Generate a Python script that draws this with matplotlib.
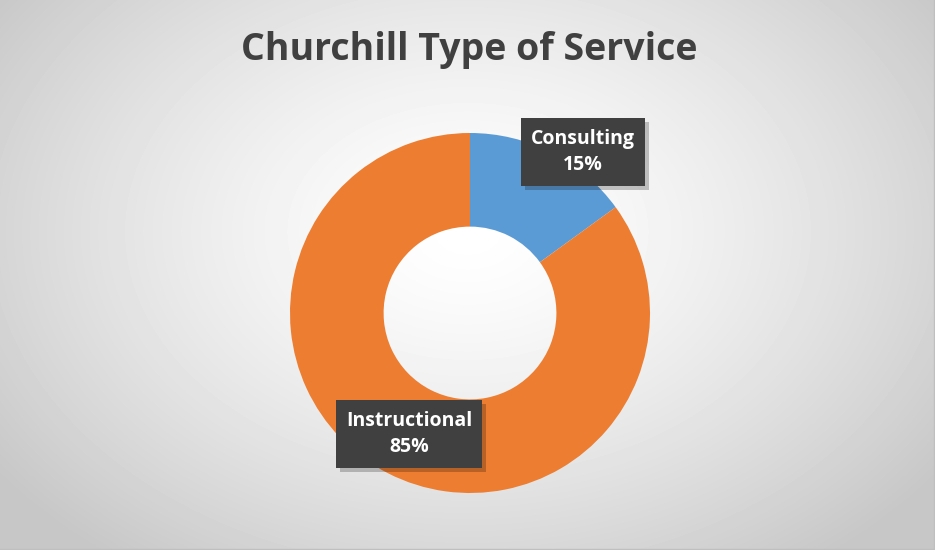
"""Churchill Type of Service donut chart."""
import matplotlib
matplotlib.use("Agg")
import matplotlib.pyplot as plt
import numpy as np
from matplotlib.patches import Rectangle

labels = ["Consulting", "Instructional"]
shares = [15, 85]
colors = ["#5B9BD5", "#ED7D31"]

W, H = 935, 550
fig = plt.figure(figsize=(W / 100, H / 100), dpi=100)

# radial grey background
bg = fig.add_axes([0, 0, 1, 1])
yy, xx = np.mgrid[0:H, 0:W]
r = np.sqrt(((xx - W / 2) / (W * 0.62)) ** 2 + ((yy - H * 0.42) / (H * 0.75)) ** 2)
shade = 1.0 - 0.22 * np.clip(r, 0, 1) ** 1.4
bg.imshow(shade, cmap="gray", vmin=0, vmax=1, extent=[0, W, H, 0], aspect="auto")
bg.set_xlim(0, W); bg.set_ylim(H, 0); bg.axis("off")
bg.plot([W - 1, W - 1], [0, H], color="#bfbfbf", lw=1)
bg.plot([0, W], [H - 1, H - 1], color="#bfbfbf", lw=1)

bg.text(469, 50, "Churchill Type of Service", ha="center", va="center",
        fontsize=27, fontweight="bold", color="#404040", family="Open Sans")

# donut: centre (470, 313), outer radius 180 px
cx, cy, R = 470, 313, 180
ax = fig.add_axes([(cx - R) / W, (H - cy - R) / H, 2 * R / W, 2 * R / H])
ax.pie(shares, colors=colors, startangle=90, counterclock=False,
       wedgeprops=dict(width=0.52, edgecolor="none"))
ax.set_xlim(-1, 1); ax.set_ylim(-1, 1)
ax.set_aspect("equal")

# data labels on a top overlay
top = fig.add_axes([0, 0, 1, 1])
top.set_xlim(0, W); top.set_ylim(H, 0); top.axis("off")
label_pos = [(583, 152), (409, 434)]
box_w = [124, 146]
for (x, y), bw, name, v in zip(label_pos, box_w, labels, shares):
    bh = 68
    top.add_patch(Rectangle((x - bw / 2 + 4, y - bh / 2 + 4), bw, bh,
                            fc="#000000", alpha=0.22, ec="none"))
    top.add_patch(Rectangle((x - bw / 2, y - bh / 2), bw, bh,
                            fc="#404040", ec="none"))
    top.text(x, y, f"{name}\n{v}%", ha="center", va="center", color="white",
             fontsize=14, fontweight="bold", family="Open Sans", linespacing=1.35)

fig.savefig("out.png", dpi=100)
